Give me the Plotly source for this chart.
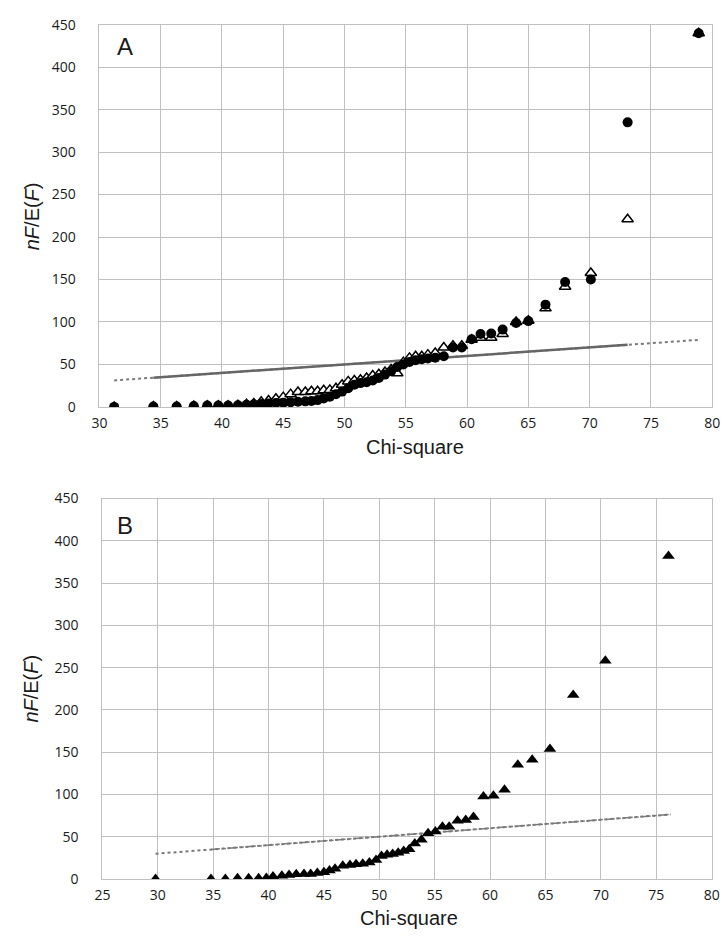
import plotly.graph_objects as go

# ---------------- data ----------------
# Panel A: shared chi-square quantiles, two series
chi_A = [31.2, 34.4, 36.3, 37.7, 38.8, 39.7, 40.5, 41.3, 42.0, 42.6, 43.2, 43.8, 44.4,
         45.0, 45.6, 46.2, 46.8, 47.3, 47.8, 48.3, 48.8, 49.3, 49.8, 50.3, 50.8, 51.3,
         51.8, 52.3, 52.8, 53.3, 53.8, 54.3, 54.8, 55.3, 55.8, 56.3, 56.8, 57.4, 58.1,
         58.85, 59.57, 60.37, 61.1, 61.97, 62.9, 64.0, 65.0, 66.4, 68.0, 70.1, 73.1, 78.9]
nf_circle_A = [0, 0.5, 0.5, 1, 1.5, 1.5, 1.5, 2, 2.5, 3, 3.5, 4, 4.5,
               5, 5.5, 6, 6.5, 7, 8, 10, 12, 15, 18, 22, 26, 28,
               29, 31, 34, 38, 42, 47, 50, 53, 55, 56, 57, 58, 59.6,
               70, 70, 79.6, 85.8, 86.5, 91, 98.8, 101, 120.4, 147, 150, 335, 440]
nf_tri_A = [0, 0.5, 0.5, 1, 1.5, 1.5, 1.5, 2, 3, 4, 6, 7.5, 9.5,
            11.5, 15, 17.5, 17.5, 18.5, 18.5, 19.5, 20, 22, 26, 30, 31, 32,
            34, 37, 38.5, 41, 44, 39.6, 52.7, 57.7, 59.6, 59.6, 61.5, 63.5, 70,
            72, 72, 79, 81.5, 81.5, 85.8, 100, 101.5, 116, 141.5, 157.7, 221, 440]

# Panel B
chi_B = [29.8, 34.8, 36.1, 37.2, 38.2, 39.1, 39.8, 40.4, 41.2, 41.85, 42.5, 43.2, 43.8,
         44.4, 45.0, 45.5, 46.0, 46.7, 47.35, 47.9, 48.5, 49.1, 49.7, 50.2, 50.7, 51.2,
         51.7, 52.2, 52.7, 53.2, 53.8, 54.4, 55.06, 55.7, 56.3, 57.06, 57.8, 58.5, 59.4,
         60.3, 61.3, 62.5, 63.8, 65.4, 67.5, 70.4, 76.1]
nf_B = [0, 0, 0, 0.8, 0.8, 0.8, 1, 3, 3.8, 4.6, 5.5, 5.8, 6,
        7, 8, 10, 12, 15.5, 16.5, 17.5, 18, 19.5, 22.5, 27, 28.5, 29.5,
        31, 33, 35, 42, 46.5, 54, 56, 61.8, 61.8, 68.8, 69.6, 73.4, 97.4,
        98.5, 105.5, 135, 141, 153.8, 217.5, 258, 382]

# reference (expected) lines y = x
refA_dotted = [31.2, 78.9]
refA_solid = [34.4, 73.1]
refB_dotted = [29.8, 76.3]
refB_dashdot = [34.8, 76.3]

x_ticks_A = [30, 35, 40, 45, 50, 55, 60, 65, 70, 75, 80]
x_ticks_B = [25, 30, 35, 40, 45, 50, 55, 60, 65, 70, 75, 80]
y_ticks = [0, 50, 100, 150, 200, 250, 300, 350, 400, 450]

# ---------------- figure ----------------
W, H = 728, 949
fig = go.Figure()

# Panel A lines
fig.add_trace(go.Scatter(x=refA_dotted, y=refA_dotted, mode="lines",
                         line=dict(color="#7a7a7a", width=2, dash="dot"),
                         xaxis="x", yaxis="y", showlegend=False))
fig.add_trace(go.Scatter(x=refA_solid, y=refA_solid, mode="lines",
                         line=dict(color="#666666", width=2.5),
                         xaxis="x", yaxis="y", showlegend=False))
# Panel A markers: open triangles below circles
fig.add_trace(go.Scatter(x=chi_A, y=nf_tri_A, mode="markers",
                         marker=dict(symbol="triangle-up", size=10, color="white",
                                     line=dict(color="black", width=1.5)),
                         xaxis="x", yaxis="y", showlegend=False))
fig.add_trace(go.Scatter(x=chi_A, y=nf_circle_A, mode="markers",
                         marker=dict(symbol="circle", size=10, color="black",
                                     line=dict(width=0)),
                         xaxis="x", yaxis="y", showlegend=False))

# Panel B lines
fig.add_trace(go.Scatter(x=refB_dotted, y=refB_dotted, mode="lines",
                         line=dict(color="#7a7a7a", width=2, dash="dot"),
                         xaxis="x2", yaxis="y2", showlegend=False))
fig.add_trace(go.Scatter(x=refB_dashdot, y=refB_dashdot, mode="lines",
                         line=dict(color="#7a7a7a", width=1.5, dash="dashdot"),
                         xaxis="x2", yaxis="y2", showlegend=False))
fig.add_trace(go.Scatter(x=chi_B, y=nf_B, mode="markers",
                         marker=dict(symbol="triangle-up", size=11, color="black",
                                     line=dict(width=0)),
                         xaxis="x2", yaxis="y2", showlegend=False))

tickfont = dict(family="Open Sans, Liberation Sans, sans-serif", size=14, color="#1a1a1a")
grid = "#c0c0c0"

def xax(dom, rng, ticks, anchor):
    return dict(domain=dom, range=rng, tickvals=ticks, showgrid=True, gridcolor=grid,
                gridwidth=1, zeroline=False, showline=True, linecolor=grid, linewidth=1,
                mirror=True, ticks="outside", ticklen=3, tickcolor="rgba(0,0,0,0)",
                tickfont=tickfont, anchor=anchor, fixedrange=True,
                ticklabeloverflow="allow")

def yax(dom, anchor):
    return dict(domain=dom, range=[0, 450], tickvals=y_ticks, showgrid=True, gridcolor=grid,
                gridwidth=1, zeroline=False, showline=True, linecolor=grid, linewidth=1,
                mirror=True, ticks="outside", ticklen=20, tickcolor="rgba(0,0,0,0)",
                tickfont=tickfont, anchor=anchor, fixedrange=True)

fig.update_layout(
    width=W, height=H,
    margin=dict(l=0, r=0, t=0, b=0),
    paper_bgcolor="white", plot_bgcolor="white",
    xaxis=xax([93.5 / W, 720 / W], [30, 80.0001], x_ticks_A, "y"),
    yaxis=yax([(H - 405) / H, (H - 15) / H], "x"),
    xaxis2=xax([96.5 / W, 719.5 / W], [25, 80.0001], x_ticks_B, "y2"),
    yaxis2=yax([(H - 886.7) / H, (H - 498.5) / H], "x2"),
)

title_font = dict(family="Liberation Sans, Arial, sans-serif", size=20, color="#1a1a1a")
panel_font = dict(family="Liberation Sans, Arial, sans-serif", size=24, color="#1a1a1a")
ytitle = "<i>n</i><i>F</i>/E(<i>F</i>)"

annotations = [
    dict(text="Chi-square", x=416 / W, y=(H - 446) / H, xref="paper", yref="paper",
         showarrow=False, font=title_font, xanchor="center", yanchor="middle"),
    dict(text="Chi-square", x=410 / W, y=(H - 927) / H, xref="paper", yref="paper",
         showarrow=False, font=title_font, xanchor="center", yanchor="middle"),
    dict(text=ytitle, x=24 / W, y=(H - 210) / H, xref="paper", yref="paper",
         showarrow=False, font=title_font, textangle=-90, xanchor="center", yanchor="middle"),
    dict(text=ytitle, x=24 / W, y=(H - 692) / H, xref="paper", yref="paper",
         showarrow=False, font=title_font, textangle=-90, xanchor="center", yanchor="middle"),
    dict(text="A", x=120 / W, y=(H - 37) / H, xref="paper", yref="paper",
         showarrow=False, font=panel_font, xanchor="center", yanchor="middle"),
    dict(text="B", x=120 / W, y=(H - 526) / H, xref="paper", yref="paper",
         showarrow=False, font=panel_font, xanchor="center", yanchor="middle"),
]
fig.update_layout(annotations=annotations)

fig.write_html("out.html")
